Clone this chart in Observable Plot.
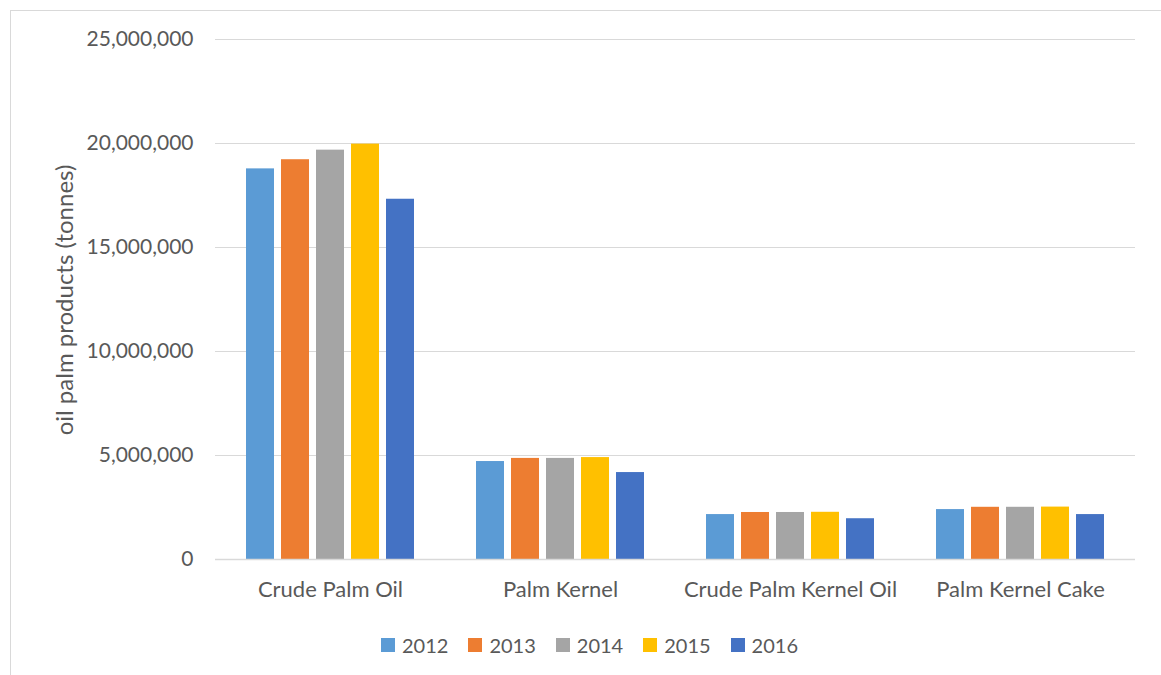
<!DOCTYPE html>
<html>
<head>
<meta charset="utf-8">
<script src="https://cdn.jsdelivr.net/npm/d3@7"></script>
<script src="https://cdn.jsdelivr.net/npm/@observablehq/plot@0.6"></script>
<style>
  body { margin: 0; background: #fff; font-family: Lato, "Open Sans", sans-serif; }
  #wrap { position: relative; width: 1161px; height: 675px; overflow: hidden; background: #fff; }
  #border { position: absolute; left: 10px; top: 10px; width: 1200px; height: 720px; border: 1px solid #d9d9d9; box-sizing: border-box; }
  #chart { position: absolute; left: 0; top: 0; }
  #ytitle { position: absolute; left: 63px; top: 300px; transform: translate(-50%, -50%) rotate(-90deg); white-space: nowrap; font-size: 24px; color: #595959; }
  #legend { position: absolute; left: 9px; top: 632px; width: 1161px; height: 25px; display: flex; justify-content: center; align-items: center; font-size: 20px; color: #595959; }
  .item { display: flex; align-items: center; margin: 0 10px; }
  .sw { width: 14px; height: 14px; margin-right: 7px; }
</style>
</head>
<body>
<div id="wrap">
  <div id="border"></div>
  <div id="chart"></div>
  <div id="ytitle">oil palm products (tonnes)</div>
  <div id="legend"></div>
</div>
<script>
const categories = ["Crude Palm Oil", "Palm Kernel", "Crude Palm Kernel Oil", "Palm Kernel Cake"];
const years = ["2012", "2013", "2014", "2015", "2016"];
const colors = ["#5B9BD5", "#ED7D31", "#A5A5A5", "#FFC000", "#4472C4"];
const v2012 = [18780000, 4710000, 2160000, 2400000];
const v2013 = [19220000, 4860000, 2260000, 2510000];
const v2014 = [19680000, 4860000, 2260000, 2510000];
const v2015 = [19970000, 4900000, 2270000, 2520000];
const v2016 = [17320000, 4180000, 1960000, 2160000];
const yTicks = [0, 5000000, 10000000, 15000000, 20000000, 25000000];

const series = [v2012, v2013, v2014, v2015, v2016];
const data = categories.flatMap((c, i) => years.map((y, j) => ({category: c, year: y, value: series[j][i]})));

const chart = Plot.plot({
  width: 1161,
  height: 620,
  marginLeft: 215,
  marginRight: 26,
  marginTop: 39,
  marginBottom: 61,
  style: {fontFamily: "Lato, 'Open Sans', sans-serif", fontSize: "21px", color: "#595959", background: "transparent", overflow: "visible"},
  fx: {domain: categories, padding: 0, label: null},
  x: {domain: years, paddingInner: 0.2, paddingOuter: 0.866, axis: null},
  y: {domain: [0, 25000000], label: null},
  color: {domain: years, range: colors},
  marks: [
    Plot.gridY(yTicks, {stroke: "#d9d9d9", strokeOpacity: 1, strokeWidth: 1}),
    Plot.axisY(yTicks, {tickSize: 0, tickPadding: 22, tickFormat: d3.format(","), label: null, fill: "#595959", fontSize: 21}),
    Plot.axisFx({anchor: "bottom", tickSize: 0, tickPadding: 22, label: null, fill: "#595959", fontSize: 22}),
    Plot.barY(data, {fx: "category", x: "year", y: "value", fill: "year"}),
    Plot.ruleY([0], {stroke: "#d9d9d9", strokeWidth: 1.5})
  ]
});
document.getElementById("chart").appendChild(chart);

const legend = document.getElementById("legend");
years.forEach((y, j) => {
  const item = document.createElement("div");
  item.className = "item";
  const sw = document.createElement("div");
  sw.className = "sw";
  sw.style.background = colors[j];
  const t = document.createElement("span");
  t.textContent = y;
  item.appendChild(sw);
  item.appendChild(t);
  legend.appendChild(item);
});
</script>
</body>
</html>
